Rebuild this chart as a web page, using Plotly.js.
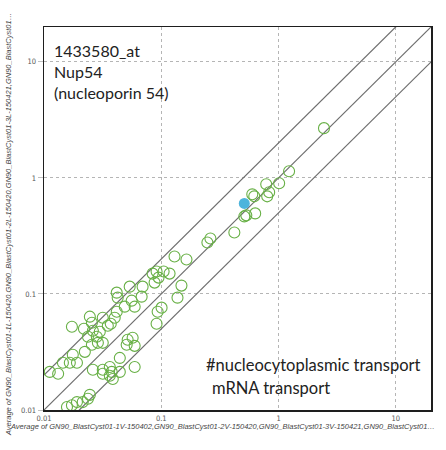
<!DOCTYPE html>
<html>
<head>
<meta charset="utf-8">
<script src="https://cdn.plot.ly/plotly-3.0.1.min.js"></script>
<style>
  html, body { margin: 0; padding: 0; background: #ffffff; }
  #chart { width: 446px; height: 450px; }
</style>
</head>
<body>
<div id="chart"></div>
<script>
// Expression values (x: V samples average, y: L samples average)
const xVals = [
  0.0112, 0.0132, 0.0145, 0.0166, 0.0191, 0.0176, 0.0223,
  0.0173, 0.0219, 0.0246, 0.0256, 0.0237, 0.0261, 0.0282, 0.0299, 0.0288, 0.0317, 0.0256,
  0.0317, 0.0350, 0.0371, 0.0401, 0.0417,
  0.0417, 0.0425, 0.0538, 0.0559, 0.0488, 0.0593, 0.0693, 0.0680,
  0.0843, 0.0912, 0.1047, 0.1177, 0.0948, 0.0877,
  0.1297, 0.1640, 0.1486, 0.1375, 0.1006, 0.0931, 0.0912,
  0.2473, 0.2624, 0.4198,
  0.0570, 0.0517, 0.0593, 0.0507, 0.0443, 0.0593,
  0.0261, 0.0317, 0.0317, 0.0364, 0.0378, 0.0364, 0.0443, 0.0386,
  0.0157, 0.0173, 0.0191, 0.0214, 0.0246, 0.0237,
  0.5105, 0.531, 0.632, 0.597, 0.621, 0.785, 1.012, 0.832, 0.800, 1.230, 2.44
];
const yVals = [
  0.0213, 0.0205, 0.0255, 0.0255, 0.0255, 0.0299, 0.0317,
  0.0522, 0.0501, 0.0637, 0.0565, 0.0428, 0.0482, 0.0428, 0.0472, 0.0379, 0.0379, 0.0365,
  0.0624, 0.0532, 0.0554, 0.0624, 0.0703,
  0.1026, 0.0929, 0.1156, 0.0875, 0.0777, 0.0777, 0.1156, 0.0948,
  0.1497, 0.1559, 0.1559, 0.1497, 0.1383, 0.1252,
  0.2101, 0.1978, 0.1180, 0.0929, 0.0762, 0.0703, 0.0554,
  0.2775, 0.3006, 0.3388,
  0.0419, 0.0403, 0.0357, 0.0365, 0.0281, 0.0235,
  0.0222, 0.0222, 0.0205, 0.0235, 0.0213, 0.0197, 0.0213, 0.0185,
  0.0106, 0.0110, 0.0117, 0.0117, 0.0135, 0.0125,
  0.4656, 0.4753, 0.4943, 0.7215, 0.6934, 0.8804, 0.8985, 0.7512, 0.6934, 1.140, 2.683
];
// Highlighted gene (1433580_at, Nup54)
const highlightX = [0.5105];
const highlightY = [0.603];

// Fold-change reference lines
const lineEnds = [0.01, 20];
const foldRatios = [2, 1, 0.5];

const tickVals = [0.01, 0.1, 1, 10];
const tickText = ['0.01', '0.1', '1', '10'];

const xTitleText = 'Average of GN90_BlastCyst01-1V-150402,GN90_BlastCyst01-2V-150420,GN90_BlastCyst01-3V-150421,GN90_BlastCyst01…';
const yTitleText = 'Average of GN90_BlastCyst01-1L-150420,GN90_BlastCyst01-2L-150420,GN90_BlastCyst01-3L-150421,GN90_BlastCyst01…';

const traces = [];
foldRatios.forEach(r => {
  traces.push({
    x: lineEnds,
    y: lineEnds.map(v => v * r),
    mode: 'lines',
    type: 'scatter',
    line: { color: '#6e6e6e', width: 1.2 },
    hoverinfo: 'skip',
    showlegend: false
  });
});
traces.push({
  x: xVals, y: yVals,
  mode: 'markers', type: 'scatter',
  marker: { symbol: 'circle-open', size: 11, color: '#68b046', line: { width: 1.1, color: '#68b046' } },
  showlegend: false
});
traces.push({
  x: highlightX, y: highlightY,
  mode: 'markers', type: 'scatter',
  marker: { symbol: 'circle', size: 11, color: '#4db4dc', line: { width: 0 } },
  showlegend: false
});

const axisCommon = {
  type: 'log',
  tickvals: tickVals,
  ticktext: tickText,
  showgrid: true,
  gridcolor: '#b5b5b5',
  griddash: 'dot',
  gridwidth: 1,
  zeroline: false,
  showline: true,
  linecolor: '#1e1e1e',
  linewidth: 1.5,
  mirror: true,
  tickfont: { family: 'Liberation Sans Narrow, DejaVu Sans Condensed, Liberation Sans, sans-serif', size: 7.5, color: '#555555' }
};

const layout = {
  width: 446, height: 450,
  margin: { l: 44, r: 15, t: 27, b: 40 },
  paper_bgcolor: '#ffffff',
  plot_bgcolor: '#ffffff',
  showlegend: false,
  xaxis: Object.assign({}, axisCommon, { range: [-2, 1.3], ticks: '' }),
  yaxis: Object.assign({}, axisCommon, { range: [-2, 1.3], ticks: 'outside', ticklen: 5, tickcolor: '#c0c0c0' }),
  annotations: [
    {
      text: '1433580_at<br>Nup54<br>(nucleoporin 54)',
      xref: 'paper', yref: 'paper', x: 0.021, y: 0.968,
      xanchor: 'left', yanchor: 'top', align: 'left', showarrow: false,
      font: { family: 'Lato, Noto Sans, sans-serif', size: 16, color: '#222222' }
    },
    {
      text: '#nucleocytoplasmic transport',
      xref: 'paper', yref: 'paper', x: 0.413, y: 0.118,
      xanchor: 'left', yanchor: 'middle', align: 'left', showarrow: false,
      font: { family: 'Lato, Noto Sans, sans-serif', size: 16.5, color: '#222222' }
    },
    {
      text: 'mRNA transport',
      xref: 'paper', yref: 'paper', x: 0.430, y: 0.058,
      xanchor: 'left', yanchor: 'middle', align: 'left', showarrow: false,
      font: { family: 'Lato, Noto Sans, sans-serif', size: 16.5, color: '#222222' }
    },
    {
      text: xTitleText,
      xref: 'paper', yref: 'paper', x: 0.462, y: -0.027,
      xanchor: 'center', yanchor: 'top', showarrow: false,
      font: { family: 'Liberation Sans, Arial, sans-serif', size: 7.5, color: '#444444', style: 'italic' }
    },
    {
      text: yTitleText, textangle: -90,
      xref: 'paper', yref: 'paper', x: -0.093, y: 0.483,
      xanchor: 'center', yanchor: 'middle', showarrow: false,
      font: { family: 'Liberation Sans, Arial, sans-serif', size: 7.5, color: '#444444', style: 'italic' }
    }
  ]
};

Plotly.newPlot('chart', traces, layout, { displayModeBar: false, staticPlot: true });
</script>
</body>
</html>
